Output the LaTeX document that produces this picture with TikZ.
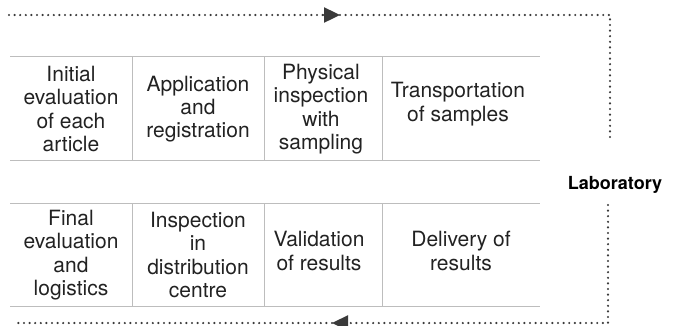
\documentclass[tikz,border=0pt]{standalone}
\usepackage{fontspec}
\setmainfont{TeX Gyre Heros}
\usetikzlibrary{arrows.meta}
\definecolor{dotgray}{HTML}{3A3A3A}
\definecolor{rulegray}{HTML}{BDBDBD}
\definecolor{txt}{HTML}{222222}
\tikzset{
  dotline/.style={draw=dotgray, line width=2.4pt, line cap=round, dash pattern=on 0pt off 5.6pt},
  tip/.style={-{Triangle[length=16pt,width=15pt,fill=dotgray,color=dotgray]}},
  rule/.style={draw=rulegray, line width=1pt},
  cell/.style={align=center, inner sep=0pt, text=txt, font=\fontsize{21}{23.3}\selectfont},
  lab/.style={inner sep=0pt, anchor=base, text=black, font=\fontsize{18}{20}\selectfont\bfseries}
}
\begin{document}
\begin{tikzpicture}[x=1pt,y=-1pt]
\useasboundingbox (0,0) rectangle (679,325);
% table rules
\draw[rule] (10,56) -- (540,56);
\draw[rule] (10,160) -- (540,160);
\draw[rule] (10,203) -- (540,203);
\draw[rule] (10,306) -- (540,306);
\foreach \x in {132,264,382}{
  \draw[rule] (\x,56) -- (\x,160);
  \draw[rule] (\x,203) -- (\x,306);
}
% cells top
\node[cell] (t1) at (71,109) {Initial\\evaluation\\of each\\article};
\node[cell] (t2) at (198,109) {Application\\and\\registration};
\node[cell] (t3) at (321,109) {Physical\\inspection\\with\\sampling};
\node[cell] (t4) at (458,104) {Transportation\\of samples};
% cells bottom
\node[cell] (b1) at (71,255) {Final\\evaluation\\and\\logistics};
\node[cell] (b2) at (198,255) {Inspection\\in\\distribution\\centre};
\node[cell] (b3) at (319,251) {Validation\\of results};
\node[cell] (b4) at (461,251) {Delivery of\\results};
% label
\node[lab] (lab) at (615,189) {Laboratory};
% connectors
\coordinate (ts) at (9,15);
\coordinate (ta) at (340,15);
\coordinate (tc) at (610,15);
\coordinate (te) at (610,140);
\draw[dotline] (ts) -- (324,15);
\draw[dotline, tip] (324,15) -- (ta);
\draw[dotline] (ta) -- (tc) -- (te);
\coordinate (bs) at (608,205);
\coordinate (bc) at (608,323);
\coordinate (ba) at (332,323);
\coordinate (be) at (17,323);
\draw[dotline] (bs) -- (bc) -- (346,323);
\draw[dotline, tip] (346,323) -- (ba);
\draw[dotline] (ba) -- (be);
\end{tikzpicture}
\end{document}
